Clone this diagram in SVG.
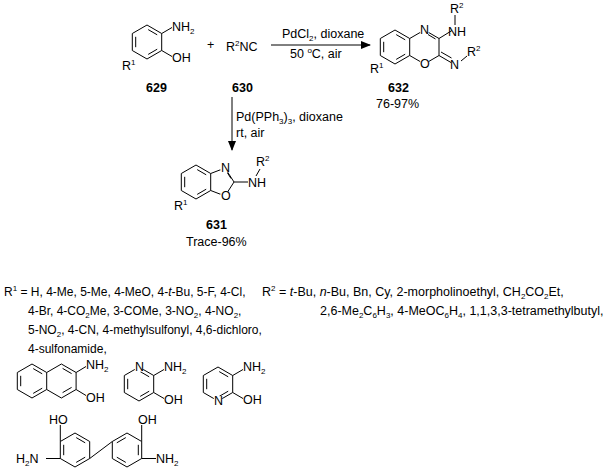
<svg xmlns="http://www.w3.org/2000/svg" width="614" height="473" viewBox="0 0 614 473">
<style>
.b{stroke:#000;stroke-width:1;fill:none}
text{font-family:"Liberation Sans",Arial,sans-serif;font-size:12.5px;fill:#000}
#r1text text{font-size:12px}
.l{font-weight:bold}
.s{font-size:8px}
.h{fill:#fff;stroke:none}
</style>
<defs>
<g id="ring">
<path class="b" d="M0,-17L14.7,-8.5L14.7,8.5L0,17L-14.7,8.5L-14.7,-8.5Z"/>
<path class="b" d="M1.2,-12.4L10.2,-7.2M10.2,7.2L1.2,12.4M-11.3,5.2L-11.3,-5.2"/>
</g>
<marker id="ah" markerWidth="10" markerHeight="8" refX="9" refY="4" orient="auto" markerUnits="userSpaceOnUse"><path d="M0,0L10,4L0,8Z" fill="#000"/></marker>
</defs>
<g id="c629">
<use href="#ring" x="147" y="42"/>
<path class="b" d="M161.7,33.5L172,27.5M161.7,50.5L172,56.5"/>
<text x="172" y="31">NH<tspan class="s" dy="3">2</tspan></text>
<text x="172" y="62">OH</text>
<text x="122" y="70">R<tspan class="s" dy="-5">1</tspan></text>
<text class="l" x="146" y="92">629</text>
</g>
<g id="plus"><text x="207" y="49">+</text></g>
<g id="c630">
<text x="226" y="51">R<tspan class="s" dy="-5">2</tspan><tspan dy="5">NC</tspan></text>
<text class="l" x="232" y="92">630</text>
</g>
<g id="c632">
<use href="#ring" x="395" y="47"/>
<path class="b" d="M409.7,38.5L424.4,30L439,38.5L439,55.5L424.4,64L409.7,55.5M428,34.5L435.5,39M439,38.5L452,30.5M439,55.5L451,62.5M441,52L451.5,58M461,61L467,56M455,25L455,15"/>
<circle class="h" cx="424.4" cy="30" r="5"/><text x="420" y="34">N</text>
<circle class="h" cx="424.4" cy="64" r="5"/><text x="420" y="68">O</text>
<text x="450" y="69">N</text>
<text x="467" y="56">R<tspan class="s" dy="-5">2</tspan></text>
<text x="448" y="36">NH</text>
<text x="450" y="13">R<tspan class="s" dy="-5">2</tspan></text>
<text x="370" y="73">R<tspan class="s" dy="-5">1</tspan></text>
<text class="l" x="388" y="92">632</text>
<text x="376" y="108">76-97%</text>
</g>
<g id="c631">
<use href="#ring" x="196" y="182"/>
<path class="b" d="M210.7,173.5L225,168L234,182L225,196L210.7,190.5M227.5,173L231,178.5M234,182L248,182M256,176L260,169"/>
<circle class="h" cx="225" cy="168" r="5"/><text x="221" y="172">N</text>
<circle class="h" cx="225" cy="196" r="5"/><text x="221" y="200">O</text>
<text x="248" y="187">NH</text>
<text x="256" y="166">R<tspan class="s" dy="-5">2</tspan></text>
<text x="174" y="210">R<tspan class="s" dy="-5">1</tspan></text>
<text class="l" x="206" y="229">631</text>
<text x="186" y="246">Trace-96%</text>
</g>
<g id="connectors">
<path class="b" d="M271,45L370,45" marker-end="url(#ah)"/>
<path class="b" d="M232,97L232,150" marker-end="url(#ah)"/>
</g>
<g id="conditions">
<text x="282" y="38">PdCl<tspan class="s" dy="3">2</tspan><tspan dy="-3">, dioxane</tspan></text>
<text x="290" y="58">50 <tspan class="s" dy="-5">o</tspan><tspan dy="5">C, air</tspan></text>
<text x="236" y="121">Pd(PPh<tspan class="s" dy="3">3</tspan><tspan dy="-3">)</tspan><tspan class="s" dy="3">3</tspan><tspan dy="-3">, dioxane</tspan></text>
<text x="236" y="137">rt, air</text>
</g>
<g id="r1text">
<text x="4" y="296">R<tspan class="s" dy="-5">1</tspan><tspan dy="5"> = H, 4-Me, 5-Me, 4-MeO, 4-</tspan><tspan font-style="italic">t</tspan>-Bu, 5-F, 4-Cl,</text>
<text x="28" y="315">4-Br, 4-CO<tspan class="s" dy="3">2</tspan><tspan dy="-3">Me, 3-COMe, 3-NO</tspan><tspan class="s" dy="3">2</tspan><tspan dy="-3">, 4-NO</tspan><tspan class="s" dy="3">2</tspan><tspan dy="-3">,</tspan></text>
<text x="28" y="334">5-NO<tspan class="s" dy="3">2</tspan><tspan dy="-3">, 4-CN, 4-methylsulfonyl, 4,6-dichloro,</tspan></text>
<text x="28" y="353">4-sulfonamide,</text>
</g>
<g id="r2text">
<text x="262" y="296">R<tspan class="s" dy="-5">2</tspan><tspan dy="5"> = </tspan><tspan font-style="italic">t</tspan>-Bu, <tspan font-style="italic">n</tspan>-Bu, Bn, Cy, 2-morpholinoethyl, CH<tspan class="s" dy="3">2</tspan><tspan dy="-3">CO</tspan><tspan class="s" dy="3">2</tspan><tspan dy="-3">Et,</tspan></text>
<text x="320" y="315">2,6-Me<tspan class="s" dy="3">2</tspan><tspan dy="-3">C</tspan><tspan class="s" dy="3">6</tspan><tspan dy="-3">H</tspan><tspan class="s" dy="3">3</tspan><tspan dy="-3">, 4-MeOC</tspan><tspan class="s" dy="3">6</tspan><tspan dy="-3">H</tspan><tspan class="s" dy="3">4</tspan><tspan dy="-3">, 1,1,3,3-tetramethylbutyl,</tspan></text>
</g>
<g id="naph">
<use href="#ring" x="32" y="381"/>
<path class="b" d="M46.7,372.5L61.4,364L76.1,372.5L76.1,389.5L61.4,398L46.7,389.5M62.6,368.4L71.6,373.6M71.6,387.4L62.6,392.6M76.1,372.5L86,366.5M76.1,389.5L86,395.5"/>
<text x="86" y="369">NH<tspan class="s" dy="3">2</tspan></text>
<text x="86" y="402">OH</text>
</g>
<g id="pyr1">
<use href="#ring" x="139" y="384"/>
<circle class="h" cx="139" cy="367" r="5"/><text x="135" y="371">N</text>
<path class="b" d="M153.7,375.5L164,369.5M153.7,392.5L164,398.5"/>
<text x="164" y="371">NH<tspan class="s" dy="3">2</tspan></text>
<text x="164" y="404">OH</text>
</g>
<g id="pyr2">
<use href="#ring" x="218" y="384"/>
<circle class="h" cx="218" cy="401" r="5"/><text x="214" y="405">N</text>
<path class="b" d="M232.7,375.5L243,369.5M232.7,392.5L243,398.5"/>
<text x="243" y="371">NH<tspan class="s" dy="3">2</tspan></text>
<text x="243" y="404">OH</text>
</g>
<g id="biphenyl">
<use href="#ring" x="75" y="450"/>
<use href="#ring" x="127" y="450" transform="translate(254,0) scale(-1,1)"/>
<path class="b" d="M89.7,458.5L112.3,441.5M60.3,441.5L60.3,425M60.3,458.5L46,458.5M141.7,441.5L141.7,425M141.7,458.5L156,458.5"/>
<text x="49" y="424">HO</text>
<text x="138" y="424">OH</text>
<text x="16" y="463">H<tspan class="s" dy="3">2</tspan><tspan dy="-3">N</tspan></text>
<text x="156" y="463">NH<tspan class="s" dy="3">2</tspan></text>
</g>
</svg>
